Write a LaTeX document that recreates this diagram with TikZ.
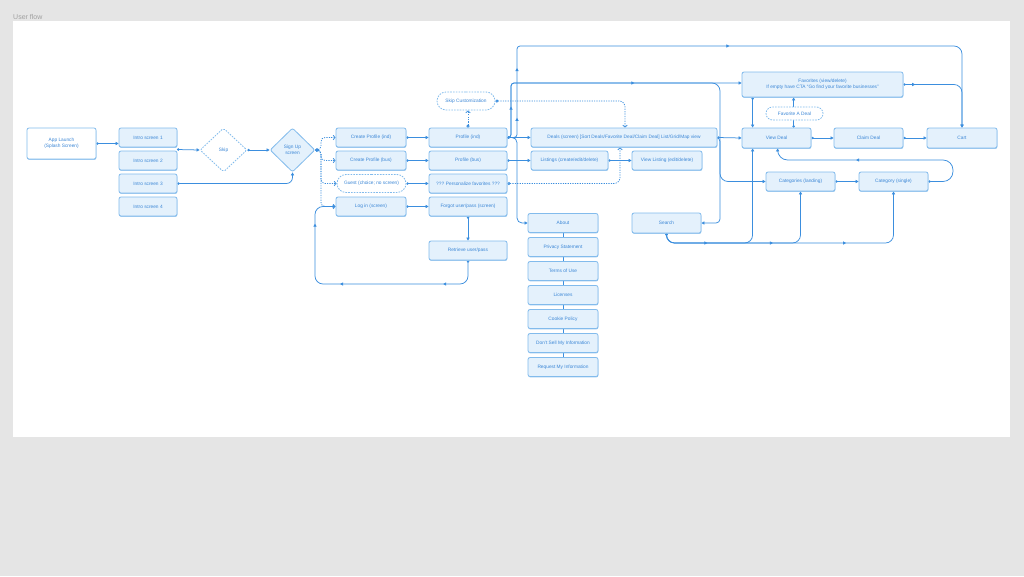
\documentclass[tikz,border=0pt]{standalone}
\usepackage{fontspec}
\setmainfont{Liberation Sans}
\usetikzlibrary{arrows.meta, positioning, shapes.geometric, shapes.misc, calc,
                shadows, decorations.markings}

\definecolor{flowblue}{HTML}{3B8EDE}
\definecolor{boxfill}{HTML}{E4F1FC}
\definecolor{boxline}{HTML}{82BBEC}
\definecolor{boxtext}{HTML}{3A86D6}
\definecolor{pagegray}{HTML}{E5E5E5}
\definecolor{titlegray}{HTML}{A0A0A0}

\pgfdeclarelayer{bg}
\pgfsetlayers{bg,main}

\begin{document}
\begin{tikzpicture}[
    x=1pt, y=-1pt,
    screen/.style={draw=boxline, fill=boxfill, rounded corners=2pt,
                   line width=0.8pt, minimum width=70pt, minimum height=19pt,
                   inner sep=0pt, align=center, text=boxtext,
                   font=\fontsize{4.8}{5.8}\selectfont,
                   drop shadow={shadow xshift=0.3pt, shadow yshift=-0.9pt,
                                opacity=0.8, fill=boxline}},
    ghost/.style={rounded rectangle, draw=boxline, fill=white,
                  dash pattern=on 1.6pt off 1.2pt, line width=0.8pt,
                  minimum height=18pt, inner sep=0pt, text=boxtext,
                  font=\fontsize{4.8}{5.8}\selectfont},
    choice/.style={diamond, draw=boxline, fill=boxfill, line width=0.8pt,
                   rounded corners=2pt, minimum width=46pt, minimum height=44pt,
                   inner sep=0pt, align=center, text=boxtext,
                   font=\fontsize{4.8}{5.8}\selectfont},
    flow/.style={color=flowblue, line width=0.75pt, rounded corners=6pt,
                 {Circle[length=2.4pt]}-{Triangle[length=3pt,width=3.2pt]}},
    soft/.style={color=flowblue, line width=0.75pt, rounded corners=6pt,
                 dash pattern=on 1.2pt off 1.2pt,
                 {Circle[open,length=3pt]}-{Straight Barb[length=2pt,width=4.5pt]}},
    link/.style={color=flowblue, line width=0.75pt},
    mid/.style={postaction={decorate, decoration={markings,
                mark=at position #1 with {\arrow{Triangle[length=3pt,width=3.2pt]}}}}}
  ]
  \useasboundingbox (0,0) rectangle (1024,576);
  \begin{pgfonlayer}{bg}
    \fill[pagegray] (0,0) rectangle (1024,576);
    \fill[white] (13,21) rectangle (1010,437);
  \end{pgfonlayer}
  \node[anchor=west, inner sep=0pt, text=titlegray,
        font=\fontsize{7}{8}\selectfont] (title) at (13,16.5) {User flow};

  % onboarding
  \node[screen, fill=white, minimum width=69pt, minimum height=31pt] (launch)
    at (61.5,143.5) {App Launch\\(Splash Screen)};
  \foreach \i in {1,...,4}
    \node[screen, minimum width=58pt] (intro\i) at (148,114.5+23*\i) {Intro screen \i};
  \node[choice, fill=white, dash pattern=on 1.6pt off 1.2pt, minimum width=47pt]
    (skip) at (223.5,150) {Skip};
  \node[choice, minimum width=45pt] (signup) at (292.5,150) {Sign Up\\screen};

  % accounts
  \node[screen] (newind) at (371,137.5) {Create Profile (ind)};
  \node[screen] (newbus) at (371,160.5) {Create Profile (bus)};
  \node[ghost, minimum width=69pt] (guest) at (371.5,183.5) {Guest (choice; no screen)};
  \node[screen] (login) at (371,206.5) {Log in (screen)};
  \node[screen, minimum width=78pt] (profind) at (468,137.5) {Profile (ind)};
  \node[screen, minimum width=78pt] (profbus) at (468,160.5) {Profile (bus)};
  \node[screen, minimum width=78pt] (personal) at (468,183.5) {??? Personalize favorites ???};
  \node[screen, minimum width=78pt] (forgot) at (468,206.5) {Forgot user/pass (screen)};
  \node[screen, minimum width=78pt] (retrieve) at (468,250.5) {Retrieve user/pass};
  \node[ghost, minimum width=58pt] (skipcust) at (466,101) {Skip Customization};

  % deals and listings
  \node[screen, minimum width=186pt] (deals) at (624,137.5)
    {Deals (screen) [Sort Deals/Favorite Deal/Claim Deal] List/Grid/Map view};
  \node[screen, minimum width=77pt] (listings) at (569.5,160.5) {Listings (create/edit/delete)};
  \node[screen] (viewlisting) at (667,160.5) {View Listing (edit/delete)};
  \foreach \t [count=\i from 0] in {About, Privacy Statement, Terms of Use, Licenses,
      Cookie Policy, {Don't Sell My Information}, Request My Information}
    \node[screen] (info\i) at (563,223+24*\i) {\t};
  \node[screen, minimum width=69pt, minimum height=20pt] (search) at (666.5,223) {Search};

  \node[screen, minimum width=161pt, minimum height=25pt] (favorites) at (822.5,84.5)
    {Favorites (view/delete)\\If empty have CTA “Go find your favorite businesses”};
  \node[screen, minimum width=69pt, minimum height=20pt] (viewdeal) at (776.5,138) {View Deal};
  \node[screen, minimum width=69pt, minimum height=20pt] (claim) at (868.5,138) {Claim Deal};
  \node[screen, minimum height=20pt] (cart) at (962,138) {Cart};
  \node[ghost, minimum width=57pt, minimum height=13pt] (favdeal) at (794.5,113.5) {Favorite A Deal};
  \node[screen, minimum width=69pt] (catland) at (800.5,181.5) {Categories (landing)};
  \node[screen, minimum width=69pt] (catsingle) at (893.5,181.5) {Category (single)};

  \coordinate (introgap) at (177,149.5);
  \coordinate (fan) at (321,150);
  \coordinate (loopcorner) at (315,284);
  \coordinate (topline) at (517,46);
  \coordinate (favline) at (511,83);
  \coordinate (aboutdrop) at (517,223);
  \coordinate (catdrop) at (720,181.5);
  \coordinate (searchdrop) at (720,223);
  \coordinate (catloop) at (953,160);
  \coordinate (searchbus) at (700,243);

  \begin{pgfonlayer}{bg}
    \draw[flow] (launch.east) -- (launch.east -| intro1.west);
    \draw[flow] (introgap) -- (skip.west);
    \draw[flow] (skip.east) -- (signup.west);
    \draw[flow] (intro3.east) -| (signup.south);
    \foreach \t in {newind, newbus, guest, login}
      \draw[soft, rounded corners=4pt] (signup.east) -- (fan) |- (\t.west);

    \draw[flow] (newind.east) -- (profind.west);
    \draw[flow] (newbus.east) -- (profbus.west);
    \draw[flow] (guest.east) -- (personal.west);
    \draw[flow] (login.east) -- (forgot.west);
    \draw[flow] (forgot.south) -- (retrieve.north);
    \draw[flow, rounded corners=8pt, mid=0.17, mid=0.56, mid=0.87]
      (retrieve.south) |- (loopcorner) |- (login.west);

    \draw[soft] (profind.north) -- (profind.north |- skipcust.south);
    \draw[soft] (skipcust.east) -| ([xshift=1pt]deals.north);
    \draw[soft] (personal.east) -| ([xshift=-4pt]deals.south);

    \draw[flow] (profind.east) -- (deals.west);
    \draw[flow] (profbus.east) -- (listings.west);
    \draw[flow] (listings.east) -- (viewlisting.west);
    \draw[flow, rounded corners=3pt, mid=0.045, mid=0.125, mid=0.5]
      (profind.east) -| (topline) [rounded corners=8pt] -| (cart.north);
    \draw[flow, rounded corners=3pt, mid=0.116, mid=0.625]
      (profind.east) -| (favline) [rounded corners=8pt] -- (favorites.west |- favline);
    \draw[flow, rounded corners=3pt]
      (profind.east) -| (favline) [rounded corners=8pt] -| (catdrop) -- (catland.west);
    \draw[flow, rounded corners=5pt] (profind.east) -| (aboutdrop) -- (info0.west);
    \foreach \i [evaluate=\i as \j using int(\i+1)] in {0,...,5}
      \draw[link] (info\i.south) -- (info\j.north);

    \draw[flow] (deals.east) -- (viewdeal.west);
    \draw[flow, rounded corners=4pt] (deals.east) -| (searchdrop) -- (search.east);
    \draw[flow] ([xshift=11pt]favorites.south west) -- ([xshift=11pt]viewdeal.north west);
    \draw[flow] ([xshift=52pt]viewdeal.north west) -- ([xshift=52pt]favorites.south west);
    \draw[flow] (viewdeal.east) -- (claim.west);
    \draw[flow] (claim.east) -- (cart.west);
    \draw[flow, rounded corners=8pt, mid=0.12] (favorites.east) -| (cart.north);
    \draw[flow] (catland.east) -- (catsingle.west);
    \draw[flow, rounded corners=10pt, mid=0.61]
      (catsingle.east) -| (catloop) -| ([xshift=36pt]viewdeal.south west);
    \draw[flow, rounded corners=8pt, mid=0.167, mid=0.40, mid=0.66]
      (search.south) |- (searchbus) -| (catsingle.south);
    \draw[flow, rounded corners=8pt] (search.south) |- (searchbus) -| (catland.south);
    \draw[flow, rounded corners=8pt]
      (search.south) |- (searchbus) -| ([xshift=11pt]viewdeal.south west);
  \end{pgfonlayer}
\end{tikzpicture}
\end{document}
